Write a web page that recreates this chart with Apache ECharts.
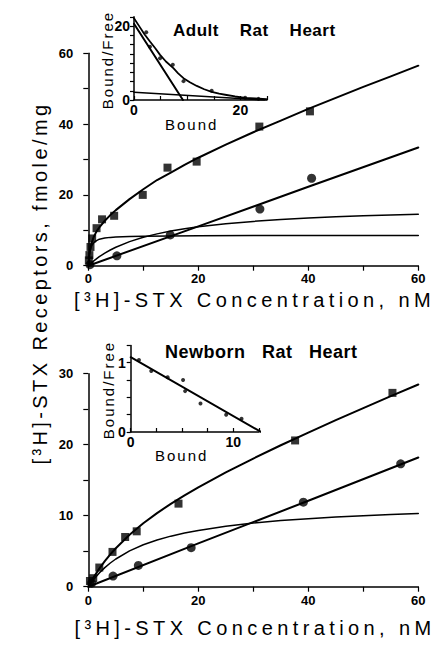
<!DOCTYPE html>
<html><head><meta charset="utf-8">
<script src="https://cdn.jsdelivr.net/npm/echarts@6/dist/echarts.min.js"></script>
<style>
html,body{margin:0;padding:0;background:#fff;}
#c{width:437px;height:654px;}
svg text[style*="zsa"]{letter-spacing:4.4px;}
svg text[style*="zsb"]{letter-spacing:3.4px;}
svg text[style*="zsc"]{letter-spacing:2px;}
svg text[style*="zsd"]{letter-spacing:0.5px;}
</style></head>
<body><div id="c"></div>
<script>
// ---------- Adult rat heart (top) ----------
const adultTotalPts = [[0.1,1.5],[0.2,3.0],[0.4,5.3],[0.7,7.7],[1.5,10.6],[2.5,13.1],[4.7,14.1],[9.9,20.0],[14.4,27.7],[19.7,29.4],[31.1,39.3],[40.3,43.6]];
const adultNonspecPts = [[0.3,0.3],[5.2,2.8],[14.9,8.7],[31.2,16.0],[40.6,24.7]];
const adultTotalCurve = [[0,0],[0.25,4.0],[0.5,5.9],[1,8.2],[1.5,9.7],[2,10.8],[3,12.7],[4,14.3],[5,15.7],[7.5,18.8],[10,21.6],[12.5,24.2],[15,26.3],[17.5,28.5],[20,30.5],[25,34.2],[30,37.7],[35,41.0],[40,44.3],[45,47.4],[50,50.5],[55,53.5],[60,56.5]];
const adultNonspecLine = [[0,0],[20,11.1],[40,22.3],[60,33.4]];
const adultSite1Curve = [[0,0],[0.1,2.0],[0.25,3.7],[0.5,5.2],[0.75,6.0],[1,6.5],[1.5,7.1],[2,7.5],[3,7.8],[4,8.0],[5,8.1],[7.5,8.25],[10,8.35],[15,8.4],[20,8.45],[30,8.5],[60,8.5]];
const adultSite2Curve = [[0,0],[0.5,0.7],[1,1.37],[2,2.54],[3,3.55],[4,4.43],[5,5.21],[7.5,6.8],[10,8.02],[12.5,8.99],[15,9.78],[17.5,10.43],[20,10.98],[25,11.85],[30,12.52],[35,13.04],[40,13.46],[45,13.81],[50,14.1],[55,14.35],[60,14.56]];
// Scatchard inset (adult)
const adultScatPts = [[2.3,18.3],[3.0,14.4],[4.9,11.3],[7.3,9.5],[9.3,5.1],[14.6,2.5],[20.9,0.6],[23.4,0.3]];
const adultScatCurve = [[0,22.1],[1,19.9],[2,17.7],[3,15.8],[4,14.0],[4.9,12.2],[6,10.4],[7.4,8.6],[8.3,7.2],[9.3,5.9],[10.5,4.8],[11.8,3.8],[13.2,2.9],[14.6,2.2],[16,1.7],[17.4,1.35],[19,0.95],[20.9,0.6],[22.8,0.4],[24.9,0.2]];
const adultScatSite1 = [[0,20.6],[9.2,0]];
const adultScatSite2 = [[0,2.1],[24.5,0]];

// ---------- Newborn rat heart (bottom) ----------
const newbornTotalPts = [[0.3,0.8],[0.9,1.2],[2.0,2.7],[4.4,4.9],[6.7,7.0],[8.8,7.8],[16.4,11.7],[37.6,20.6],[55.3,27.3]];
const newbornNonspecPts = [[0.6,0.5],[4.5,1.5],[9.1,3.0],[18.7,5.5],[39.1,11.9],[56.8,17.3]];
const newbornTotalCurve = [[0,0],[0.5,0.7],[1,1.35],[2,2.55],[3,3.6],[4,4.55],[5,5.42],[7.5,7.31],[10,8.93],[12.5,10.37],[15,11.67],[17.5,12.86],[20,13.99],[25,16.1],[30,18.05],[35,19.92],[40,21.7],[45,23.45],[50,25.15],[55,26.83],[60,28.48]];
const newbornNonspecLine = [[0,0],[20,6.1],[40,12.1],[60,18.2]];
const newbornSpecCurve = [[0,0],[0.5,0.55],[1,1.05],[2,1.94],[3,2.69],[4,3.34],[5,3.9],[7.5,5.04],[10,5.9],[12.5,6.58],[15,7.12],[17.5,7.56],[20,7.93],[25,8.52],[30,8.96],[35,9.31],[40,9.58],[45,9.81],[50,10.0],[55,10.16],[60,10.3]];
const newbornScatPts = [[0.8,1.04],[2.0,0.88],[3.6,0.79],[5.1,0.75],[5.3,0.59],[6.8,0.41],[9.3,0.25],[10.8,0.19]];
const newbornScatLine = [[0,1.08],[12.7,0]];

// tick labels
const mainXLabels = [0,20,40,60];
const adultYLabels = [0,20,40,60];
const newbornYLabels = [0,10,20,30];
const adultInsetXLabels = [0,20];
const adultInsetYLabels = [0,20];
const newbornInsetXLabels = [0,10];
const newbornInsetYLabels = [0,1];

const FONT = 'Liberation Sans';
function axis(gi, max, interval, labels, opt) {
  opt = opt || {};
  return {
    type:'value', gridIndex:gi, min:0, max:max, interval:interval,
    axisLine:{show:true, onZero:false, lineStyle:{color:'#000', width:1.5}},
    axisTick:{show:true, inside:!!opt.inside, length:opt.tickLen||5, lineStyle:{color:'#000', width:1.2}},
    axisLabel:{show:true, color:'#000', fontFamily:FONT, fontWeight:'bold', fontSize:opt.fs||13, margin:opt.margin||8,
      formatter: v => labels.some(l => Math.abs(l - v) < 1e-9) ? String(v) : ''},
    splitLine:{show:false}
  };
}
function line(xi, data, w) {
  return {type:'line', xAxisIndex:xi, yAxisIndex:xi, data:data, symbol:'none', smooth:false,
    lineStyle:{color:'#000', width:w, join:'round', cap:'round'}, z:3, silent:true};
}
function pts(xi, data, sym, size) {
  return {type:'scatter', xAxisIndex:xi, yAxisIndex:xi, data:data, symbol:sym, symbolSize:size,
    itemStyle:{color:'#000'}, z:4, silent:true};
}
function txt(x, y, s, size, fam, weight, align, rot) {
  return {type:'text', x:x, y:y, rotation:rot||0,
    style:{text:s, fontSize:size, fontFamily:fam, fontWeight:weight||'normal', fill:'#000',
      textAlign:align||'center', textVerticalAlign:'middle'}};
}

const chart = echarts.init(document.getElementById('c'), null, {renderer:'svg'});
chart.setOption({
  animation:false,
  backgroundColor:'#fff',
  textStyle:{fontFamily:FONT},
  grid:[
    {left:88.3, top:53.3, width:330, height:212.4},
    {left:88.3, top:373.7, width:330, height:213},
    {left:134, top:16.75, width:133, height:83.25},
    {left:130.7, top:345.4, width:128.3, height:86.6}
  ],
  xAxis:[
    axis(0, 60, 10, mainXLabels, {margin:6}),
    axis(1, 60, 10, mainXLabels, {margin:7}),
    axis(2, 25, 5, adultInsetXLabels, {inside:true, tickLen:4, fs:14, margin:3}),
    axis(3, 12.5, 2.5, newbornInsetXLabels, {inside:true, tickLen:4, fs:14, margin:3})
  ],
  yAxis:[
    axis(0, 60, 10, adultYLabels, {margin:15}),
    axis(1, 30, 5, newbornYLabels, {margin:15}),
    axis(2, 22.5, 2.5, adultInsetYLabels, {tickLen:4, fs:14, margin:4}),
    axis(3, 1.25, 0.25, newbornInsetYLabels, {tickLen:4, fs:14, margin:5})
  ],
  series:[
    line(0, adultTotalCurve, 2),
    line(0, adultNonspecLine, 2),
    line(0, adultSite1Curve, 1.5),
    line(0, adultSite2Curve, 1.5),
    pts(0, adultTotalPts, 'rect', 8),
    pts(0, adultNonspecPts, 'circle', 9),
    line(2, adultScatCurve, 1.8),
    line(2, adultScatSite1, 2),
    line(2, adultScatSite2, 1.5),
    pts(2, adultScatPts, 'circle', 4),
    line(1, newbornTotalCurve, 2),
    line(1, newbornNonspecLine, 2),
    line(1, newbornSpecCurve, 1.5),
    pts(1, newbornTotalPts, 'rect', 8),
    pts(1, newbornNonspecPts, 'circle', 9),
    line(3, newbornScatLine, 2),
    pts(3, newbornScatPts, 'circle', 4)
  ],
  graphic:[
    txt(173, 30, 'Adult\u00a0\u00a0\u00a0\u00a0Rat\u00a0\u00a0\u00a0\u00a0Heart', 17, FONT + ', zsd', 'bold', 'left'),
    txt(165, 352, 'Newborn\u00a0\u00a0\u00a0Rat\u00a0\u00a0\u00a0Heart', 18, FONT + ', zsd', 'bold', 'left'),
    txt(254.5, 300, '[³H]-STX Concentration, nM', 20, FONT + ', zsa'),
    txt(255, 628, '[³H]-STX Concentration, nM', 20, FONT + ', zsa'),
    txt(40, 283, '[³H]-STX Receptors, fmole/mg', 20, FONT + ', zsb', 'normal', 'center', Math.PI/2),
    txt(191.7, 124, 'Bound', 15, FONT + ', zsc'),
    txt(181.7, 455, 'Bound', 15, FONT + ', zsc'),
    txt(107.5, 60, 'Bound/Free', 15, FONT + ', zsc', 'normal', 'center', Math.PI/2),
    txt(108, 390, 'Bound/Free', 15, FONT + ', zsc', 'normal', 'center', Math.PI/2)
  ]
});
</script></body></html>
